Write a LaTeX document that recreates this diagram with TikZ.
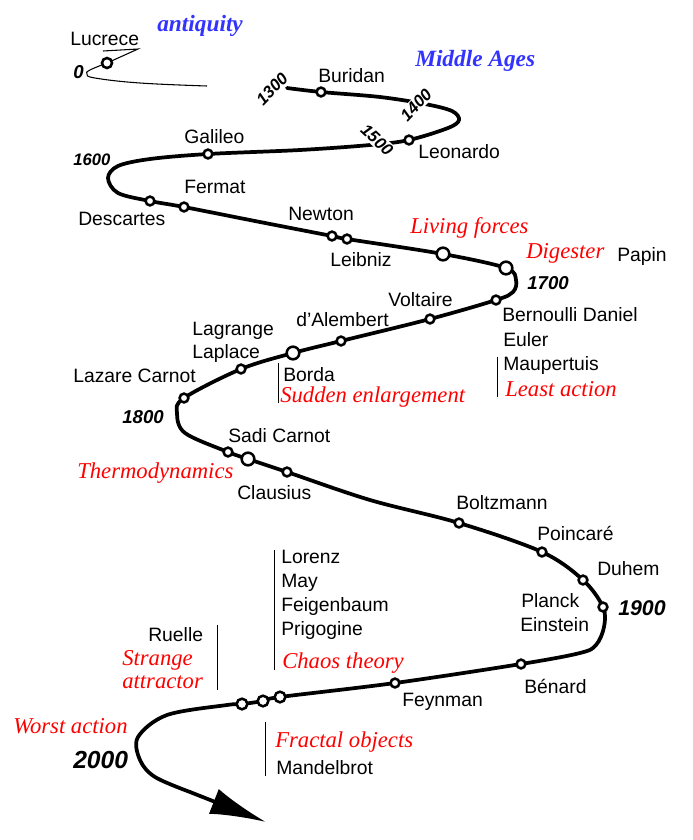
\documentclass[tikz,border=0pt]{standalone}
\usepackage{fontspec}
\setmainfont{Liberation Sans}
\newfontfamily\ideaserif{Liberation Serif}
\usetikzlibrary{arrows.meta}

\definecolor{eraBlue}{RGB}{51,51,255}
\definecolor{ideaRed}{RGB}{255,0,0}

\tikzset{
  curve/.style={line width=2.8pt,line join=round,line cap=round},
  thin curve/.style={line width=0.8pt},
  dot/.style={circle,draw,fill=white,line width=1.9pt,inner sep=0pt,minimum size=6.6pt},
  big dot/.style={dot,minimum size=9.5pt},
  who/.style={font=\fontsize{14.5}{17}\selectfont,inner sep=0pt,anchor=base west},
  idea/.style={text=ideaRed,font=\ideaserif\itshape\fontsize{17}{20}\selectfont,inner sep=0pt,anchor=base west},
  era/.style={text=eraBlue,font=\ideaserif\bfseries\itshape\fontsize{17.5}{20}\selectfont,inner sep=0pt,anchor=base west},
  yearlbl/.style={font=\bfseries\itshape\fontsize{#1}{#1}\selectfont,inner sep=0pt},
  yearlbl/.default=12.5,
  sepline/.style={line width=0.6pt}
}

\begin{document}
\begin{tikzpicture}[x=0.75pt,y=-0.75pt]
\useasboundingbox (0,0) rectangle (693,840);

% antiquity, thin
\coordinate (lucrece) at (107,63);
\draw[thin curve] (103,51) -- (138,49) -- plot[smooth,tension=0.7] coordinates {(lucrece) (90,70) (87,74) (95,78) (140,83) (207,86)};

% the stations on the main line
\coordinate (buridan) at (321,92);
\coordinate (leonardo) at (409,140);
\coordinate (galileo) at (208,154);
\coordinate (descartes) at (150,201);
\coordinate (fermat) at (184,207);
\coordinate (newton) at (332,236);
\coordinate (leibniz) at (347,239);
\coordinate (living) at (443,254);
\coordinate (digester) at (506,268);
\coordinate (bernoulli) at (496,300);
\coordinate (voltaire) at (430,319);
\coordinate (dalembert) at (341,341);
\coordinate (borda) at (293,353);
\coordinate (laplace) at (241,369);
\coordinate (lcarnot) at (184,398);
\coordinate (scarnot) at (228,452);
\coordinate (thermo) at (248,459);
\coordinate (clausius) at (287,472);
\coordinate (boltzmann) at (459,523);
\coordinate (poincare) at (542,552);
\coordinate (duhem) at (583,580);
\coordinate (planck) at (603,607);
\coordinate (benard) at (521,664);
\coordinate (feynman) at (395,683);
\coordinate (chaos) at (280,697);
\coordinate (strange) at (263,701);
\coordinate (fractal) at (242,704);
\coordinate (tail) at (190,792);
\coordinate (tip) at (266,822);

\draw[curve] plot[smooth,tension=0.55] coordinates {
  (287,88) (buridan) (380,97) (425,104) (452,111) (459,120) (448,128) (leonardo)
  (370,145) (300,150) (galileo) (150,159) (118,166) (108,178) (118,193) (descartes) (fermat)
  (260,222) (newton) (leibniz) (living) (digester) (516,280) (513,292) (bernoulli)
  (voltaire) (dalembert) (borda) (laplace) (lcarnot) (177,413) (185,433) (scarnot) (thermo) (clausius)
  (370,500) (boltzmann) (poincare) (duhem) (planck) (604,627) (596,645) (580,653) (benard)
  (feynman) (chaos) (strange) (fractal) (227,705) (167,715) (138,737) (140,760) (155,777) (tail)};
\draw[curve,line cap=butt,-{Latex[length=42pt,width=20pt]}] (tail) -- (tip);

% years on the line
\node[yearlbl,rotate=46] (y1300) at (272,89) {1300};
\node[yearlbl,rotate=47,fill=white,inner sep=1pt] (y1400) at (416,105) {1400};
\node[yearlbl,rotate=-43,fill=white,inner sep=1pt] (y1500) at (377,140) {1500};

% circles
\node[dot,minimum size=7.5pt] (dlucrece) at (lucrece) {};
\foreach \p in {buridan,leonardo,galileo,descartes,fermat,newton,leibniz,bernoulli,voltaire,dalembert,laplace,lcarnot,scarnot,clausius,boltzmann,poincare,duhem,planck,benard,feynman}
  \node[dot] (d\p) at (\p) {};
\foreach \p in {living,digester,borda,thermo}
  \node[big dot] (d\p) at (\p) {};
\foreach \p in {chaos,strange,fractal}
  \node[dot,minimum size=8pt] (d\p) at (\p) {};

% texts
\node[who] (tLucrece) at (70,45) {Lucrece};
\node[era] (tAntiquity) at (157,31) {antiquity};
\node[yearlbl=14,anchor=base west] (y0) at (73,78) {0};
\node[era] (tMiddle) at (415,66) {Middle Ages};
\node[who] (tBuridan) at (318,82) {Buridan};
\node[who] (tLeonardo) at (418,158) {Leonardo};
\node[who] (tGalileo) at (184,143) {Galileo};
\node[yearlbl,anchor=base west] (y1600) at (73,165) {1600};
\node[who] (tFermat) at (184,193) {Fermat};
\node[who] (tDescartes) at (78,225) {Descartes};
\node[who] (tNewton) at (288,220) {Newton};
\node[who] (tLeibniz) at (330,266) {Leibniz};
\node[idea] (tLiving) at (410,233) {Living forces};
\node[idea] (tDigester) at (526,258) {Digester};
\node[who] (tPapin) at (617,261) {Papin};
\node[yearlbl=14,anchor=base west] (y1700) at (527,289) {1700};
\node[who] (tVoltaire) at (388,306) {Voltaire};
\node[who] (tBernoulli) at (502,321) {Bernoulli Daniel};
\node[who] (tEuler) at (503,346) {Euler};
\node[who] (tMaupertuis) at (503,370) {Maupertuis};
\node[idea] (tLeast) at (505,396) {Least action};
\node[who] (tAlembert) at (296,326) {d'Alembert};
\node[who] (tLagrange) at (192,335) {Lagrange};
\node[who] (tLaplace) at (192,358) {Laplace};
\node[who] (tBorda) at (283,381) {Borda};
\node[idea] (tSudden) at (280,402) {Sudden enlargement};
\node[who] (tLCarnot) at (73,382) {Lazare Carnot};
\node[yearlbl=14,anchor=base west] (y1800) at (122,423) {1800};
\node[who] (tSCarnot) at (228,442) {Sadi Carnot};
\node[idea] (tThermo) at (77,478) {Thermodynamics};
\node[who] (tClausius) at (237,499) {Clausius};
\node[who] (tBoltzmann) at (456,509) {Boltzmann};
\node[who] (tPoincare) at (537,540) {Poincaré};
\node[who] (tDuhem) at (597,575) {Duhem};
\node[yearlbl=16,anchor=base west] (y1900) at (618,615) {1900};
\node[who] (tPlanck) at (521,607) {Planck};
\node[who] (tEinstein) at (520,631) {Einstein};
\node[who] (tLorenz) at (281,563) {Lorenz};
\node[who] (tMay) at (281,587) {May};
\node[who] (tFeigenbaum) at (281,611) {Feigenbaum};
\node[who] (tPrigogine) at (281,635) {Prigogine};
\node[idea] (tChaos) at (282,668) {Chaos theory};
\node[who] (tRuelle) at (148,641) {Ruelle};
\node[idea] (tStrange) at (122,665) {Strange};
\node[idea] (tAttractor) at (122,688) {attractor};
\node[who] (tFeynman) at (402,706) {Feynman};
\node[who] (tBenard) at (524,693) {Bénard};
\node[idea] (tWorst) at (13,733) {Worst action};
\node[yearlbl=18.5,anchor=base west] (y2000) at (73,768) {2000};
\node[idea] (tFractal) at (275,747) {Fractal objects};
\node[who] (tMandelbrot) at (276,774) {Mandelbrot};

% side bars
\draw[sepline] (497,357) -- (497,397);
\draw[sepline] (278,363) -- (278,403);
\draw[sepline] (274,550) -- (274,670);
\draw[sepline] (217,625) -- (217,690);
\draw[sepline] (265,722) -- (265,776);

\end{tikzpicture}
\end{document}
